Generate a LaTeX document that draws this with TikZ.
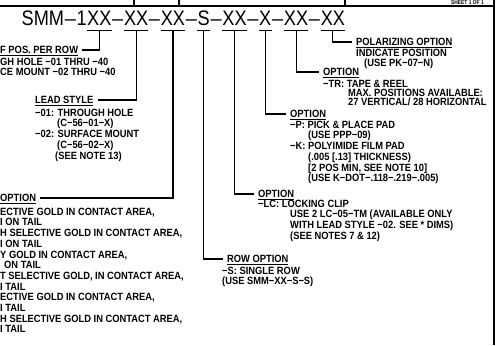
\documentclass[tikz,border=0pt]{standalone}
\usepackage{fontspec}
\setmainfont{Liberation Sans}
\newfontfamily\cadfont{Liberation Sans}[FakeStretch=0.89]
\newfontfamily\pnfont{Liberation Sans}[FakeStretch=0.865]
\usetikzlibrary{positioning}

\begin{document}
\begin{tikzpicture}[
  x=1pt, y=-1pt,
  every node/.style={inner sep=0pt},
  pn/.style={font=\pnfont\fontsize{21}{21}\selectfont, text height=15pt,
             text depth=4.5pt},
  sep/.style={pn, font=\fontsize{20}{20}\selectfont, minimum width=11.8pt},
  head/.style={font=\cadfont\bfseries\fontsize{10.5}{10.7}\selectfont,
               text height=7pt, text depth=0pt},
  body/.style={font=\cadfont\bfseries\fontsize{10.5}{10.7}\selectfont,
               align=left},
  lead/.style={line width=1.1pt},
  frame/.style={line width=1.3pt},
]
\useasboundingbox (0,0) rectangle (497,345);
\clip (0,0) rectangle (497,345);

% title block edge
\draw[frame] (0,6) -- (494,6) (494,0) -- (494,345);
\draw[frame] (134,0) -- (134,6) (179,0) -- (179,6) (345,0) -- (345,6);
\node[font=\cadfont\bfseries\fontsize{5.5}{5.5}\selectfont, anchor=base east]
  (sheet) at (484,4.6) {SHEET 1 OF 1};

% part number
\node[pn, anchor=base west] (smm) at (21.5,25.5) {SMM};
\node[sep, right=0pt of smm] (m0) {–};
\node[pn, right=0pt of m0]  (one) {1};
\node[pn, right=0pt of one] (g1) {XX};
\node[sep, right=0pt of g1] (m1) {–};
\node[pn, right=0pt of m1]  (g2) {XX};
\node[sep, right=0pt of g2] (m2) {–};
\node[pn, right=0pt of m2]  (g3) {XX};
\node[sep, right=0pt of g3] (m3) {–};
\node[pn, right=0pt of m3]  (g4) {S};
\node[sep, right=0pt of g4] (m4) {–};
\node[pn, right=0pt of m4]  (g5) {XX};
\node[sep, right=0pt of g5] (m5) {–};
\node[pn, right=0pt of m5]  (g6) {X};
\node[sep, right=0pt of g6] (m6) {–};
\node[pn, right=0pt of m6]  (g7) {XX};
\node[sep, right=0pt of g7] (m7) {–};
\node[pn, right=0pt of m7]  (g8) {XX};

% left side
\node[head, anchor=west] (npos) at (0,50) {\underline{F POS. PER ROW}};
\node[body, below=4pt of npos.south west, anchor=north west] (nposb)
  {GH HOLE −01 THRU −40\\CE MOUNT −02 THRU −40};

\node[head, anchor=west] (lead) at (35,100) {\underline{LEAD STYLE}};
\node[body, below=5pt of lead.south west, anchor=north west] (leadb)
  {−01: THROUGH HOLE\\
   \hspace*{22pt}(C−56−01−X)\\
   −02: SURFACE MOUNT\\
   \hspace*{22pt}(C−56−02−X)\\
   \hspace*{20pt}(SEE NOTE 13)};

\node[head, anchor=west] (plat) at (0,198) {\underline{OPTION}};
\node[body, below=6pt of plat.south west, anchor=north west] (platb)
  {ECTIVE GOLD IN CONTACT AREA,\\
   I ON TAIL\\
   H SELECTIVE GOLD IN CONTACT AREA,\\
   I ON TAIL\\
   Y GOLD IN CONTACT AREA,\\
   \hspace*{4pt}ON TAIL\\
   T SELECTIVE GOLD, IN CONTACT AREA,\\
   I TAIL\\
   ECTIVE GOLD IN CONTACT AREA,\\
   I TAIL\\
   H SELECTIVE GOLD IN CONTACT AREA,\\
   I TAIL};

% right side
\node[head, anchor=west] (row) at (227,259) {\underline{ROW OPTION}};
\node[body, below=4pt of row.south west, xshift=-5pt, anchor=north west] (rowb)
  {−S: SINGLE ROW\\(USE SMM−XX−S−S)};

\node[head, anchor=west] (clip) at (258,194) {\underline{OPTION}};
\node[body, below=2pt of clip.south west, anchor=north west] (clipb)
  {−LC: LOCKING CLIP\\
   \hspace*{32pt}USE 2 LC−05−TM (AVAILABLE ONLY\\
   \hspace*{32pt}WITH LEAD STYLE −02. SEE * DIMS)\\
   \hspace*{32pt}(SEE NOTES 7 \& 12)};

\node[head, anchor=west] (pad) at (290,114) {\underline{OPTION}};
\node[body, below=3pt of pad.south west, anchor=north west] (padb)
  {−P: PICK \& PLACE PAD\\
   \hspace*{18pt}(USE PPP−09)\\
   −K: POLYIMIDE FILM PAD\\
   \hspace*{18pt}(.005 [.13] THICKNESS)\\
   \hspace*{18pt}[2 POS MIN, SEE NOTE 10]\\
   \hspace*{18pt}(USE K−DOT−.118−.219−.005)};

\node[head, anchor=west] (tape) at (323,72) {\underline{OPTION}};
\node[body, below=4pt of tape.south west, anchor=north west] (tapeb)
  {−TR: TAPE \& REEL\\[-1.7pt]
   \hspace*{25pt}MAX. POSITIONS AVAILABLE:\\[-1.7pt]
   \hspace*{25pt}27 VERTICAL/ 28 HORIZONTAL};

\node[head, anchor=west] (polar) at (356,42) {\underline{POLARIZING OPTION}};
\node[body, below=3pt of polar.south west, anchor=north west] (polarb)
  {INDICATE POSITION\\\hspace*{8pt}(USE PK−07−N)};

% leaders
\draw[lead] (g1.south west) -- (g1.south east) (g1.south) |- ([xshift=4pt]npos.east);
\draw[lead] (g2.south west) -- (g2.south east) (g2.south) |- ([xshift=4pt]lead.east);
\draw[lead] (g3.south west) -- (g3.south east) (g3.south) |- ([xshift=4pt]plat.east);
\draw[lead] (g4.south west) -- (g4.south east) (g4.south) |- ([xshift=-4pt]row.west);
\draw[lead] (g5.south west) -- (g5.south east) (g5.south) |- ([xshift=-4pt]clip.west);
\draw[lead] (g6.south west) -- (g6.south east) (g6.south) |- ([xshift=-4pt]pad.west);
\draw[lead] (g7.south west) -- (g7.south east) (g7.south) |- ([xshift=-4pt]tape.west);
\draw[lead] (g8.south west) -- (g8.south east) (g8.south) |- ([xshift=-4pt]polar.west);
\end{tikzpicture}
\end{document}
